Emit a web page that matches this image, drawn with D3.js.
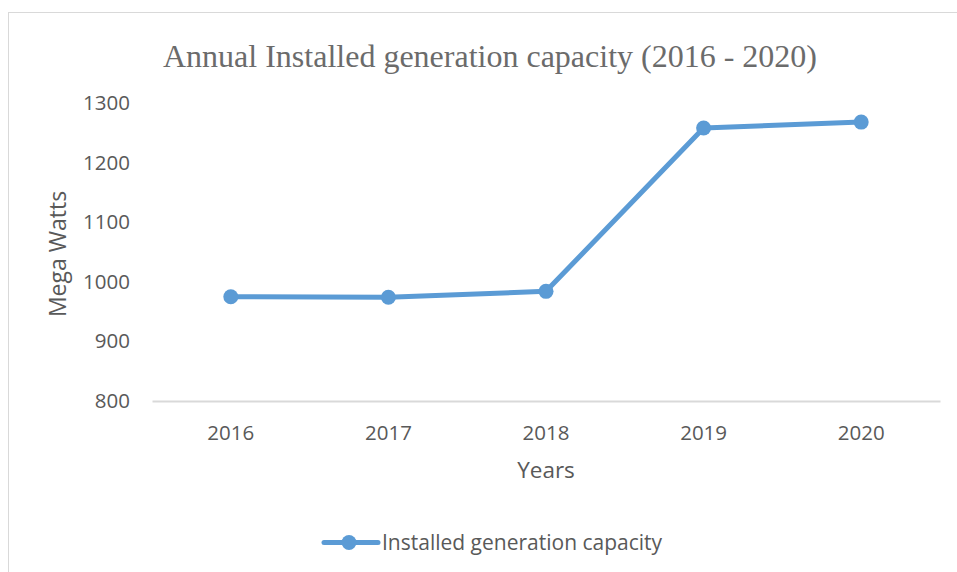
<!DOCTYPE html>
<html>
<head>
<meta charset="utf-8">
<script src="https://cdn.jsdelivr.net/npm/d3@7"></script>
<style>
  body { margin: 0; background: #fff; }
  text { fill: #595959; }
</style>
</head>
<body>
<div id="chart"></div>
<script>
const years = ["2016", "2017", "2018", "2019", "2020"]
const capacity = [975, 974, 984, 1258, 1268]
const yTicks = [800, 900, 1000, 1100, 1200, 1300]
const seriesName = "Installed generation capacity"

const W = 957, H = 572
const margin = {top: 103, right: 17, bottom: 171, left: 152},
  width = W - margin.left - margin.right,
  height = H - margin.top - margin.bottom

const svg = d3.select("#chart")
  .append("svg")
  .attr("width", W)
  .attr("height", H)

// outer chart border
svg.append("rect")
  .attr("x", 8.5).attr("y", 12.5)
  .attr("width", W + 10).attr("height", H + 10)
  .attr("fill", "none")
  .attr("stroke", "#d9d9d9")
  .attr("stroke-width", 1)

svg.append("text")
  .attr("x", 490).attr("y", 67)
  .attr("text-anchor", "middle")
  .style("font-family", "'Liberation Serif', 'Times New Roman', serif")
  .style("font-size", "32px")
  .style("fill", "#6b6b6b")
  .text("Annual Installed generation capacity (2016 - 2020)")

const g = svg.append("g")
  .attr("transform", "translate(" + margin.left + "," + margin.top + ")")

const x = d3.scaleBand()
  .domain(years)
  .range([0, width])

const y = d3.scaleLinear()
  .domain([800, 1300])
  .range([height, 0])

// y axis labels (no line, no ticks)
const yAxis = g.append("g")
  .call(d3.axisLeft(y).tickValues(yTicks).tickFormat(d3.format("d")).tickSize(0).tickPadding(22))
yAxis.select(".domain").remove()
yAxis.selectAll("text")
  .style("font-family", "'Open Sans', sans-serif")
  .style("font-size", "20.5px")
  .attr("fill", "#595959")

// x axis
const xAxis = g.append("g")
  .attr("transform", "translate(0," + height + ")")
  .call(d3.axisBottom(x).tickSize(0).tickPadding(24))
xAxis.select(".domain").attr("stroke", "#d9d9d9").attr("stroke-width", 2)
xAxis.selectAll("text")
  .style("font-family", "'Open Sans', sans-serif")
  .style("font-size", "20.5px")
  .attr("fill", "#595959")

svg.append("text")
  .attr("transform", "translate(66," + (margin.top + height / 2 + 2) + ") rotate(-90)")
  .attr("text-anchor", "middle")
  .style("font-family", "'Open Sans', sans-serif")
  .style("font-size", "23px")
  .text("Mega Watts")

svg.append("text")
  .attr("x", margin.left + width / 2)
  .attr("y", 478)
  .attr("text-anchor", "middle")
  .style("font-family", "'Open Sans', sans-serif")
  .style("font-size", "22.5px")
  .text("Years")

const data = years.map((d, i) => ({year: d, value: capacity[i]}))
const line = d3.line()
  .x(d => x(d.year) + x.bandwidth() / 2)
  .y(d => y(d.value))

g.append("path")
  .datum(data)
  .attr("fill", "none")
  .attr("stroke", "#5b9bd5")
  .attr("stroke-width", 5)
  .attr("stroke-linejoin", "round")
  .attr("stroke-linecap", "round")
  .attr("d", line)

g.selectAll("circle")
  .data(data)
  .enter()
  .append("circle")
  .attr("cx", d => x(d.year) + x.bandwidth() / 2)
  .attr("cy", d => y(d.value))
  .attr("r", 7.5)
  .attr("fill", "#5b9bd5")

// legend
const lg = svg.append("g").attr("transform", "translate(322,542.5)")
lg.append("line")
  .attr("x1", 2).attr("x2", 56)
  .attr("stroke", "#5b9bd5")
  .attr("stroke-width", 5)
  .attr("stroke-linecap", "round")
lg.append("circle").attr("cx", 27).attr("r", 7.5).attr("fill", "#5b9bd5")
lg.append("text")
  .attr("x", 60).attr("y", 7)
  .style("font-family", "'Open Sans', sans-serif")
  .style("font-size", "21px")
  .text(seriesName)
</script>
</body>
</html>
